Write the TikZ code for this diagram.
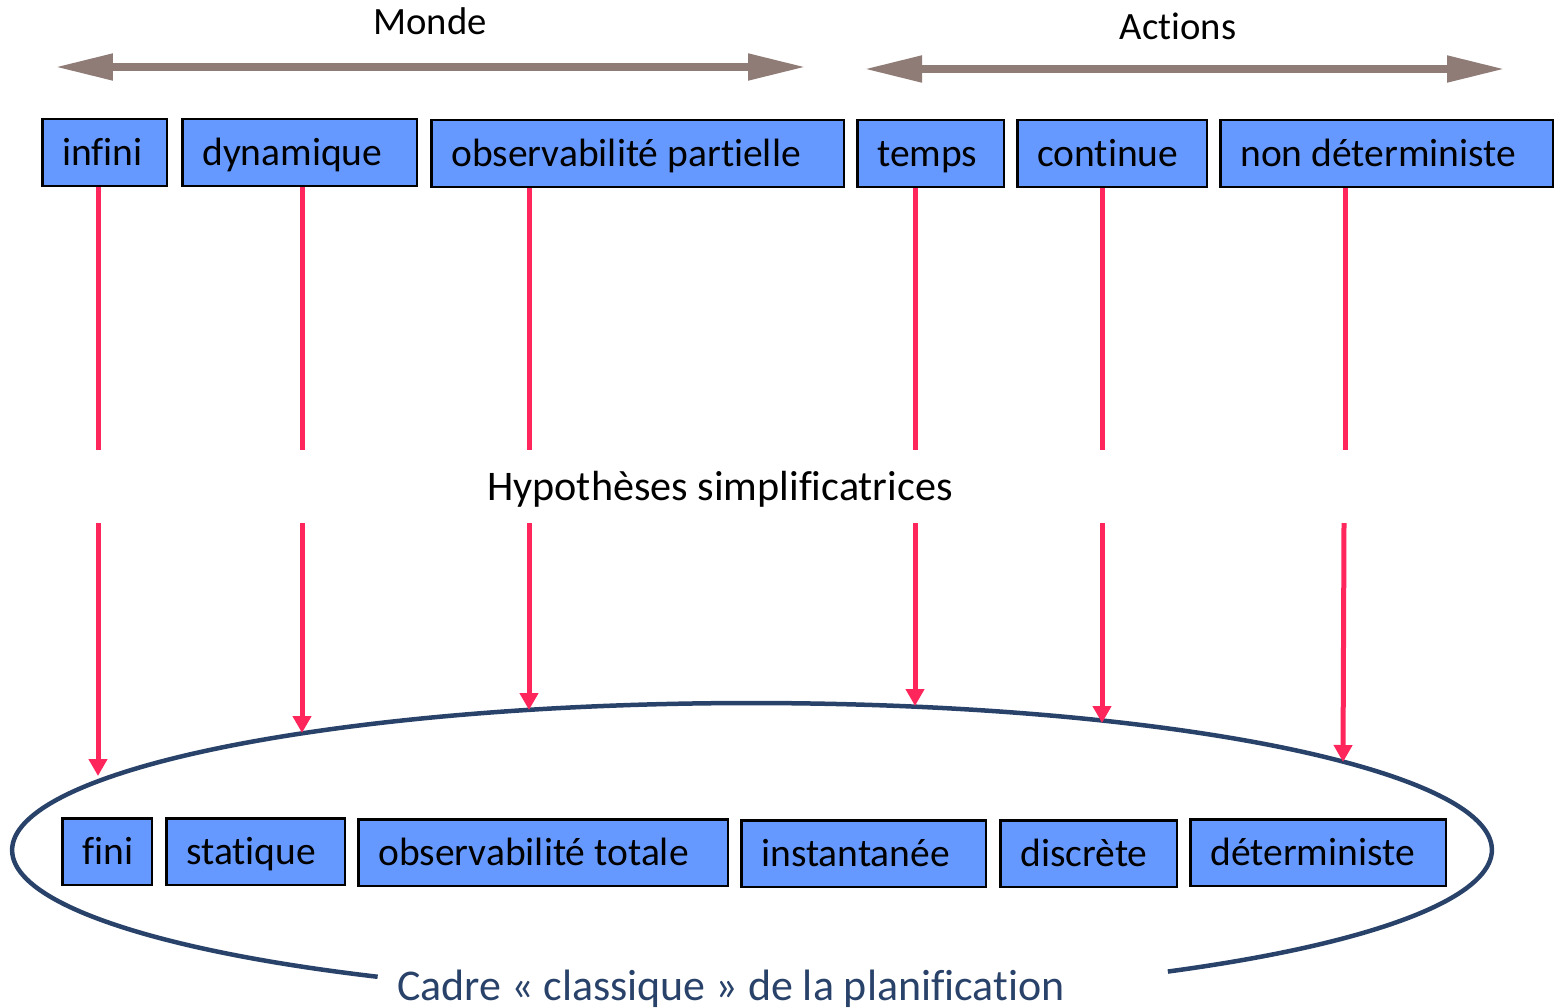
\documentclass[tikz,border=0pt]{standalone}
\usepackage{fontspec}
\setmainfont{Carlito}[Ligatures=NoCommon]
\usetikzlibrary{arrows.meta}
\definecolor{boxblue}{RGB}{102,153,255}
\definecolor{hypred}{RGB}{255,38,92}
\definecolor{axisgrey}{RGB}{144,124,118}
\definecolor{frameblue}{RGB}{41,66,106}
% left-aligned label of a fixed width inside a cell
\newcommand\lw[2]{\makebox[#1][l]{#2}}
\begin{document}
\begin{tikzpicture}[x=0.02cm, y=-0.02cm,
  cell/.style={draw=black, line width=0.05cm, fill=boxblue, anchor=north west,
    minimum height=1.34cm, inner xsep=0.4cm,
    text height=18pt, text depth=4pt, font=\fontsize{22.5}{27}\selectfont},
  lbl/.style={anchor=base, inner sep=0pt, font=\fontsize{22}{26}\selectfont},
  axis/.style={draw=axisgrey, line width=0.16cm,
    {Triangle[length=1.16cm,width=0.5cm]}-{Triangle[length=1.16cm,width=0.5cm]}},
  hyp/.style={draw=hypred, line width=0.1cm},
  hyptip/.style={hyp, -{Triangle[length=0.34cm,width=0.36cm]}},
  frame/.style={draw=frameblue, line width=0.09cm}]
\useasboundingbox (0,0) rectangle (1554,1007);

% axis labels and arrows
\node[lbl] (monde) at (430,35) {Monde};
\node[lbl] (actions) at (1178,40) {Actions};
\coordinate (m1) at (55,67);   \coordinate (m2) at (806,67);
\coordinate (a1) at (864,69);  \coordinate (a2) at (1505,69);
\draw[axis] (m1) -- (m2);
\draw[axis] (a1) -- (a2);

% general setting
\node[cell] (infini)  at (41,118)   {\lw{1.70cm}{infini}};
\node[cell] (dyn)     at (181,118)  {\lw{3.90cm}{dynamique}};
\node[cell] (obsp)    at (430,119)  {\lw{7.46cm}{observabilité partielle}};
\node[cell] (temps)   at (856,119)  {\lw{2.14cm}{temps}};
\node[cell] (cont)    at (1016,119) {\lw{3.00cm}{continue}};
\node[cell] (nondet)  at (1219,119) {\lw{5.86cm}{non déterministe}};

% classical setting
\node[cell] (fini)    at (61,817)   {\lw{1.00cm}{fini}};
\node[cell] (stat)    at (165,817)  {\lw{2.78cm}{statique}};
\node[cell] (obst)    at (357,818)  {\lw{6.60cm}{observabilité totale}};
\node[cell] (inst)    at (740,819)  {\lw{4.10cm}{instantanée}};
\node[cell] (disc)    at (999,819)  {\lw{2.74cm}{discrète}};
\node[cell] (det)     at (1189,818) {\lw{4.32cm}{déterministe}};

% frame around the classical setting
\coordinate (ec) at (752,850);
\draw[frame] ([shift={(-55.8:14.8cm and 2.94cm)}]ec)
  arc[start angle=-55.8, end angle=239.6, x radius=14.8cm, y radius=2.94cm];
\node[lbl, text=frameblue, font=\fontsize{25}{30}\selectfont] (cadre) at (731,1000)
  {Cadre « classique » de la planification};

% simplifying hypotheses
\node[lbl, font=\fontsize{24}{28}\selectfont] (hyp) at (720,500) {Hypothèses simplificatrices};

\coordinate (u1) at (98,450);   \coordinate (l1) at (98,523);   \coordinate (t1) at (98,776);
\coordinate (u2) at (302,450);  \coordinate (l2) at (302,523);  \coordinate (t2) at (302,733);
\coordinate (u3) at (529,450);  \coordinate (l3) at (529,523);  \coordinate (t3) at (529,710);
\coordinate (u4) at (915,450);  \coordinate (l4) at (915,523);  \coordinate (t4) at (915,706);
\coordinate (u5) at (1102,450); \coordinate (l5) at (1102,523); \coordinate (t5) at (1102,723);
\coordinate (u6) at (1345,450); \coordinate (l6) at (1344,523); \coordinate (t6) at (1343,762);

\draw[hyp] (infini.south -| u1) -- (u1);
\draw[hyp] (dyn.south -| u2) -- (u2);
\draw[hyp] (obsp.south -| u3) -- (u3);
\draw[hyp] (temps.south -| u4) -- (u4);
\draw[hyp] (cont.south -| u5) -- (u5);
\draw[hyp] (nondet.south -| u6) -- (u6);

\draw[hyptip] (l1) -- (t1);
\draw[hyptip] (l2) -- (t2);
\draw[hyptip] (l3) -- (t3);
\draw[hyptip] (l4) -- (t4);
\draw[hyptip] (l5) -- (t5);
\draw[hyptip] (l6) -- (t6);
\end{tikzpicture}
\end{document}
